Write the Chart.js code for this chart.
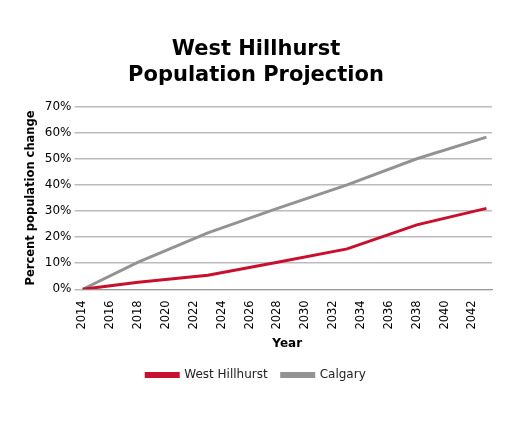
<!DOCTYPE html>
<html>
<head>
<meta charset="utf-8">
<script src="https://cdn.jsdelivr.net/npm/chart.js@4"></script>
<style>
  html, body { margin: 0; padding: 0; background: #fff; }
  #wrap { width: 509px; height: 425px; }
</style>
</head>
<body>
<div id="wrap"><canvas id="chart"></canvas></div>
<script>
const years = [2014, 2018, 2023, 2028, 2033, 2038, 2043];
const westHillhurst = [0, 2.7, 5.4, 10.4, 15.5, 24.7, 31];
const calgary = [0, 10.4, 21.6, 31, 40, 50, 58.3];
const yTicks = [0, 10, 20, 30, 40, 50, 60, 70];

const toPoints = vals => vals.map((v, i) => ({ x: years[i], y: v }));
const font = 'DejaVu Sans';

new Chart(document.getElementById('chart'), {
    type: 'line',
    data: {
        datasets: [
            { label: 'West Hillhurst', data: toPoints(westHillhurst), borderColor: '#c8102e', backgroundColor: '#c8102e', borderWidth: 3, pointRadius: 0, tension: 0 },
            { label: 'Calgary', data: toPoints(calgary), borderColor: '#939393', backgroundColor: '#939393', borderWidth: 3, pointRadius: 0, tension: 0 }
        ]
    },
    options: {
        responsive: true,
        maintainAspectRatio: false,
        animation: false,
        layout: { padding: { left: 20, right: 17, top: 36, bottom: 34 } },
        plugins: {
            title: {
                display: true,
                text: ['West Hillhurst', 'Population Projection'],
                font: { family: font, size: 21, weight: 'bold', lineHeight: 1.25 },
                color: '#000',
                padding: { bottom: 18 }
            },
            legend: {
                position: 'bottom',
                labels: { font: { family: font, size: 12 }, color: '#222', boxWidth: 32, boxHeight: 3, padding: 14 }
            },
            tooltip: { enabled: false }
        },
        scales: {
            x: {
                type: 'linear',
                min: 2014,
                max: 2043.4,
                afterBuildTicks: axis => { axis.ticks = []; for (let y = 2014; y <= 2042; y += 2) axis.ticks.push({ value: y }); },
                ticks: { callback: v => String(v), maxRotation: 90, minRotation: 90, font: { family: font, size: 11.5 }, color: '#000' },
                grid: { display: false },
                border: { color: '#999' },
                title: { display: true, text: 'Year', font: { family: font, size: 12, weight: 'bold' }, color: '#000' }
            },
            y: {
                min: 0,
                max: 70,
                afterBuildTicks: axis => { axis.ticks = yTicks.map(v => ({ value: v })); },
                ticks: { callback: v => v + '%', font: { family: font, size: 12 }, color: '#000' },
                grid: { color: '#bbb', lineWidth: 1.5 },
                border: { display: false },
                title: { display: true, text: 'Percent population change', font: { family: font, size: 11.5, weight: 'bold' }, color: '#000' }
            }
        }
    }
});
</script>
</body>
</html>
